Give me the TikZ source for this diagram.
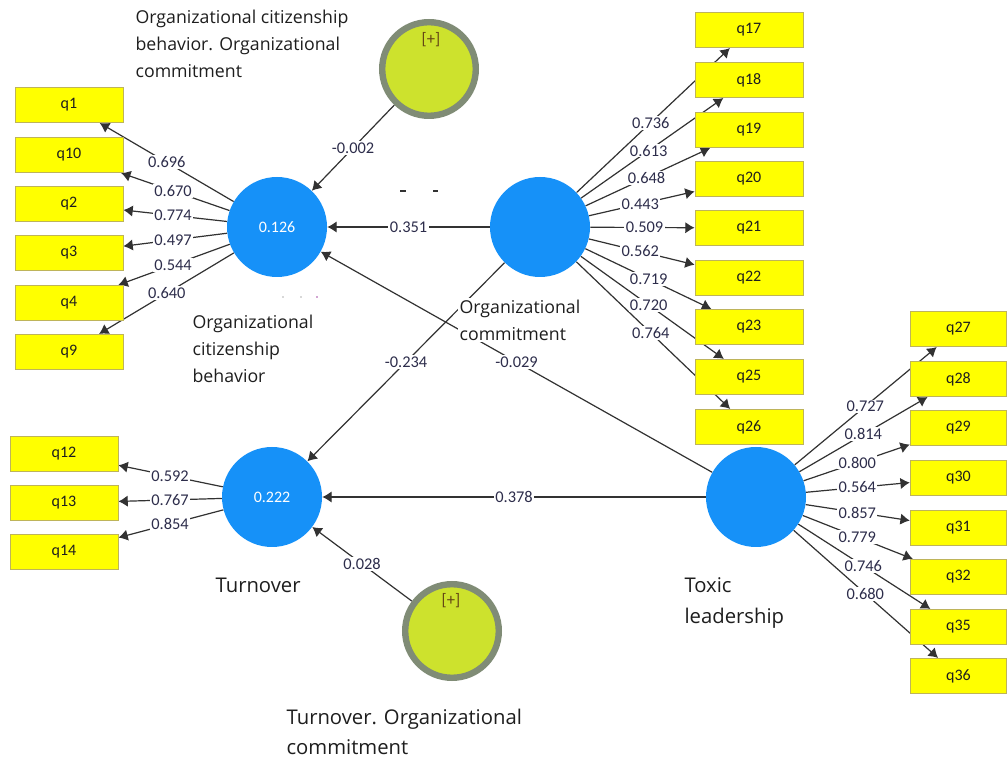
\documentclass[tikz,border=0pt]{standalone}
\usepackage{fontspec}
\setmainfont{Open Sans}
\newfontfamily\numfont{Carlito}
\usetikzlibrary{arrows.meta,calc}
\pgfdeclarelayer{back}
\pgfdeclarelayer{bg}
\pgfsetlayers{back,bg,main}
\definecolor{lvblue}{RGB}{22,145,248}
\definecolor{modfill}{RGB}{205,226,45}
\definecolor{modring}{RGB}{128,140,118}
\definecolor{boxfill}{RGB}{255,255,0}
\definecolor{boxline}{RGB}{190,180,90}
\definecolor{numcol}{RGB}{45,45,75}
\definecolor{linecol}{RGB}{50,50,50}
\definecolor{txtcol}{RGB}{30,30,30}
\definecolor{pluscol}{RGB}{100,70,20}
\newcommand\lnk[4][0.5]{%
  \begin{pgfonlayer}{bg}\draw[arr] (#2) -- (#3);\end{pgfonlayer}%
  \node[lbl] at ($(#2)!#1!(#3)$) {#4};}
\begin{document}
\begin{tikzpicture}[x=0.75pt,y=-0.75pt,
  lv/.style={circle,fill=lvblue,minimum size=75pt,inner sep=0pt,text=white,font=\numfont\fontsize{12}{14}\selectfont},
  modc/.style={circle,fill=modfill,draw=modring,line width=4.8pt,minimum size=70.2pt,inner sep=0pt},
  ind/.style={rectangle,fill=boxfill,draw=boxline,line width=0.6pt,minimum width=81pt,minimum height=26.5pt,inner sep=0pt,text=txtcol,font=\numfont\fontsize{12}{14}\selectfont},
  indr/.style={ind,minimum width=72.5pt},
  lbl/.style={fill=white,inner sep=1pt,text=numcol,font=\numfont\fontsize{12.3}{14}\selectfont},
  arr/.style={draw=linecol,line width=0.9pt,-{Latex[length=7pt,width=8.5pt]}},
  desc/.style={fill=white,inner sep=1pt,align=left,anchor=north west,text=txtcol,font=\fontsize{13.3}{20.25}\selectfont},
  descb/.style={desc,font=\fontsize{15.2}{22.5}\selectfont},
  plus/.style={text=pluscol,font=\numfont\fontsize{12.5}{14}\selectfont}]
\useasboundingbox (0,0) rectangle (1008,762);
\begin{pgfonlayer}{back}
\fill[white] (0,0) rectangle (1008,762);
\end{pgfonlayer}
% latent variables
\node[lv] (ocb) at (277,227) {0.126};
\node[lv] (oc) at (540,227) {};
\node[lv] (to) at (272,497) {0.222};
\node[lv] (tl) at (756,497) {};
\node[modc] (m1) at (429,69) {};
\node[modc] (m2) at (452,631) {};
\node[plus] (p1) at (431,40) {[+]};
\node[plus] (p2) at (451,601) {[+]};
% left indicators
\node[ind] (q1) at (69,105) {q1};
\node[ind] (q10) at (69,155) {q10};
\node[ind] (q2) at (69,204) {q2};
\node[ind] (q3) at (69,253) {q3};
\node[ind] (q4) at (69,303) {q4};
\node[ind] (q9) at (69,352) {q9};
\node[ind] (q12) at (64,454) {q12};
\node[ind] (q13) at (64,503) {q13};
\node[ind] (q14) at (64,552) {q14};
% OC indicators
\node[ind] (q17) at (749,30) {q17};
\node[ind] (q18) at (749,80) {q18};
\node[ind] (q19) at (749,130) {q19};
\node[ind] (q20) at (749,179) {q20};
\node[ind] (q21) at (749,228) {q21};
\node[ind] (q22) at (749,278) {q22};
\node[ind] (q23) at (749,327) {q23};
\node[ind] (q25) at (749,377) {q25};
\node[ind] (q26) at (749,427) {q26};
% TL indicators
\node[indr] (q27) at (958.5,329) {q27};
\node[indr] (q28) at (958.5,379) {q28};
\node[indr] (q29) at (958.5,428) {q29};
\node[indr] (q30) at (958.5,478) {q30};
\node[indr] (q31) at (958.5,528) {q31};
\node[indr] (q32) at (958.5,577) {q32};
\node[indr] (q35) at (958.5,627) {q35};
\node[indr] (q36) at (958.5,676) {q36};
% descriptive labels
\node[desc] (t1) at (134,8) {Organizational citizenship\\behavior. Organizational\\commitment};
\node[desc] (t2) at (191,313) {Organizational\\citizenship\\behavior};
\node[desc] (t3) at (458,298) {Organizational\\commitment};
\node[descb] (t4) at (214,576) {Turnover};
\node[descb,font=\fontsize{15.2}{23.25}\selectfont] (t5) at (683,576) {Toxic\\leadership};
\node[descb] (t6) at (285,708) {Turnover. Organizational\\commitment};
% OCB loadings
\lnk[0.53]{ocb}{q1}{0.696}
\lnk{ocb}{q10}{0.670}
\lnk{ocb}{q2}{0.774}
\lnk{ocb}{q3}{0.497}
\lnk{ocb}{q4}{0.544}
\lnk[0.53]{ocb}{q9}{0.640}
% Turnover loadings
\lnk[0.49]{to}{q12}{0.592}
\lnk[0.49]{to}{q13}{0.767}
\lnk[0.49]{to}{q14}{0.854}
% OC loadings
\lnk[0.53]{oc}{q17}{0.736}
\lnk[0.52]{oc}{q18}{0.613}
\lnk[0.51]{oc}{q19}{0.648}
\lnk[0.48]{oc}{q20}{0.443}
\lnk{oc}{q21}{0.509}
\lnk[0.48]{oc}{q22}{0.562}
\lnk[0.52]{oc}{q23}{0.719}
\lnk[0.52]{oc}{q25}{0.720}
\lnk[0.53]{oc}{q26}{0.764}
% TL loadings
\lnk[0.54]{tl}{q27}{0.727}
\lnk[0.53]{tl}{q28}{0.814}
\lnk{tl}{q29}{0.800}
\lnk{tl}{q30}{0.564}
\lnk{tl}{q31}{0.857}
\lnk{tl}{q32}{0.779}
\lnk[0.53]{tl}{q35}{0.746}
\lnk[0.54]{tl}{q36}{0.680}
% structural paths
\lnk{m1}{ocb}{-0.002}
\lnk{oc}{ocb}{0.351}
\lnk{oc}{to}{-0.234}
\lnk{tl}{ocb}{-0.029}
\lnk{tl}{to}{0.378}
\lnk{m2}{to}{0.028}
% small stray marks
\draw[linecol,line width=1pt] (400,191) -- (406,191) (433,191) -- (438,191);
\fill[gray!60] (283,297) circle (0.8) (301,297) circle (0.8);
\fill[violet!70] (317,297) circle (0.9);
\end{tikzpicture}
\end{document}
